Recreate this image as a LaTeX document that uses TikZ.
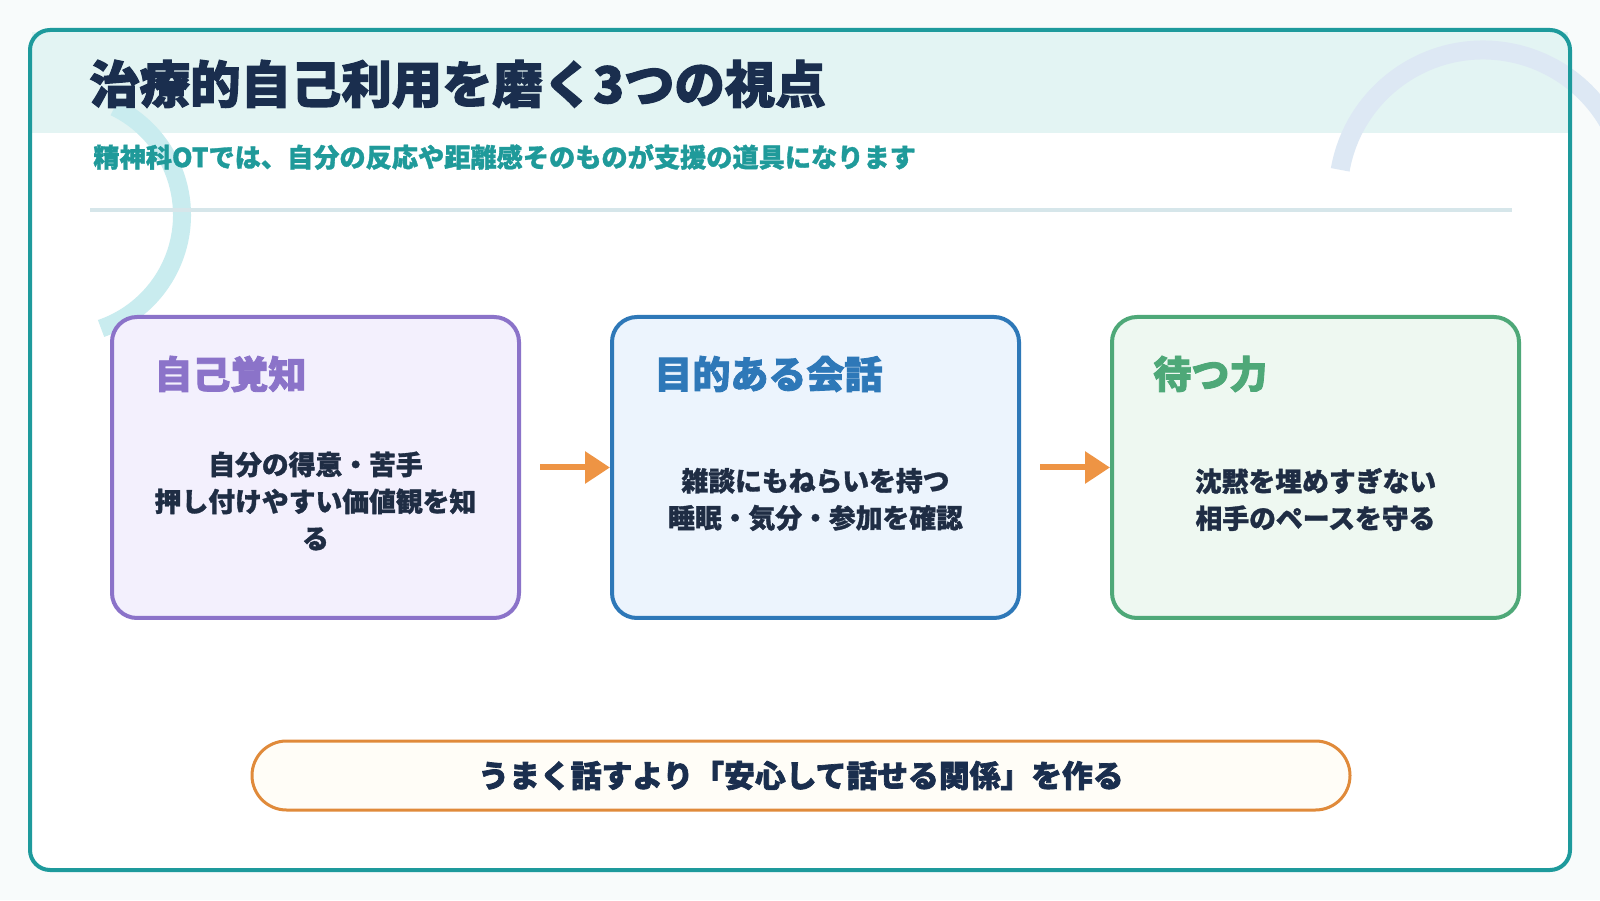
\documentclass[tikz,border=0pt]{standalone}
\usepackage{fontspec}
\setmainfont{Noto Sans CJK JP}
\newfontfamily\heavyjp{Noto Sans CJK JP}[BoldFeatures={FakeBold=2.2}]
\newfontfamily\semijp{Noto Sans CJK JP}[BoldFeatures={FakeBold=1.2}]
\usetikzlibrary{arrows.meta}
\definecolor{pagebg}{HTML}{F8FBFB}
\definecolor{frameC}{HTML}{1E9A9C}
\definecolor{bandC}{HTML}{E3F4F3}
\definecolor{arcL}{HTML}{C9ECEF}
\definecolor{arcR}{HTML}{DDE8F4}
\definecolor{divC}{HTML}{D6E6EA}
\definecolor{titleC}{HTML}{1A2E4E}
\definecolor{subC}{HTML}{1F9A9A}
\definecolor{bodyC}{HTML}{1F2D44}
\definecolor{purpleC}{HTML}{8B73C9}
\definecolor{purpleF}{HTML}{F3F0FD}
\definecolor{blueC}{HTML}{2E78B8}
\definecolor{blueF}{HTML}{ECF4FD}
\definecolor{greenC}{HTML}{4EA878}
\definecolor{greenF}{HTML}{EEF8F1}
\definecolor{arrowC}{HTML}{EE9444}
\definecolor{pillC}{HTML}{E08A3A}
\definecolor{pillF}{HTML}{FFFDF7}
\begin{document}
\begin{tikzpicture}[x=0.5pt,y=0.5pt,
  card/.style={draw, line width=2pt, rounded corners=12.5pt, minimum width=203.5pt, minimum height=150.5pt, inner sep=0pt},
  cardtitle/.style={anchor=west, inner sep=0pt, font=\heavyjp\fontsize{19}{23}\selectfont\bfseries},
  cardbody/.style={inner sep=0pt, align=center, text=bodyC, font=\semijp\fontsize{13.4}{18.5}\selectfont\bfseries},
  flowarrow/.style={draw=arrowC, line width=3pt, -{Triangle[length=12.5pt,width=15.5pt]}},
  pill/.style={draw=pillC, fill=pillF, line width=1.5pt, rounded corners=17.25pt, minimum width=549pt, minimum height=34.5pt, inner sep=0pt, text=titleC, font=\heavyjp\fontsize{15.4}{18}\selectfont\bfseries}
]
\useasboundingbox (0,0) rectangle (1600,900);
\fill[pagebg] (0,0) rectangle (1600,900);
% frame
\node[fill=white, rounded corners=10pt, minimum width=770pt, minimum height=420pt, inner sep=0pt] (framebg) at (800,450) {};
\fill[bandC] (32,767) rectangle (1568,868);
% decorative arcs
\begin{scope}
\clip (0,0) rectangle (1600,900);
\draw[arcR, line width=9.5pt] (1483,705) ++(170:72.5pt) arc[start angle=170, end angle=25, radius=72.5pt];
\end{scope}
\draw[arcL, line width=9pt] (62,685) ++(64:60pt) arc[start angle=64, end angle=-71, radius=60pt];
\node[draw=frameC, line width=2pt, rounded corners=10pt, minimum width=770pt, minimum height=420pt, inner sep=0pt] (frame) at (800,450) {};
% divider
\draw[divC, line width=2pt] (90,690) -- (1512,690);
% title and subtitle
\node[anchor=west, inner sep=0pt, text=titleC, font=\heavyjp\fontsize{25.2}{30}\selectfont\bfseries] (title) at (89,816) {治療的自己利用を磨く3つの視点};
\node[anchor=west, inner sep=0pt, text=subC, font=\semijp\fontsize{13.1}{16}\selectfont\bfseries] (subtitle) at (93,743) {精神科OTでは、自分の反応や距離感そのものが支援の道具になります};
% cards
\node[card, draw=purpleC, fill=purpleF] (c1) at (315.5,432.5) {};
\node[card, draw=blueC, fill=blueF] (c2) at (815.5,432.5) {};
\node[card, draw=greenC, fill=greenF] (c3) at (1315.5,432.5) {};
\node[cardtitle, text=purpleC] (t1) at (154,526) {自己覚知};
\node[cardtitle, text=blueC] (t2) at (654,526) {目的ある会話};
\node[cardtitle, text=greenC] (t3) at (1153,526) {待つ力};
\node[cardbody] (d1) at (315.5,399) {自分の得意・苦手\\押し付けやすい価値観を知\\る};
\node[cardbody] (d2) at (815.5,400.5) {雑談にもねらいを持つ\\睡眠・気分・参加を確認};
\node[cardbody] (d3) at (1315.5,400.5) {沈黙を埋めすぎない\\相手のペースを守る};
% arrows
\draw[flowarrow] ([xshift=9.5pt]c1.east) -- (c2.west);
\draw[flowarrow] ([xshift=9.5pt]c2.east) -- (c3.west);
% bottom pill
\node[pill] (p) at (801,124.5) {うまく話すより「安心して話せる関係」を作る};
\end{tikzpicture}
\end{document}
